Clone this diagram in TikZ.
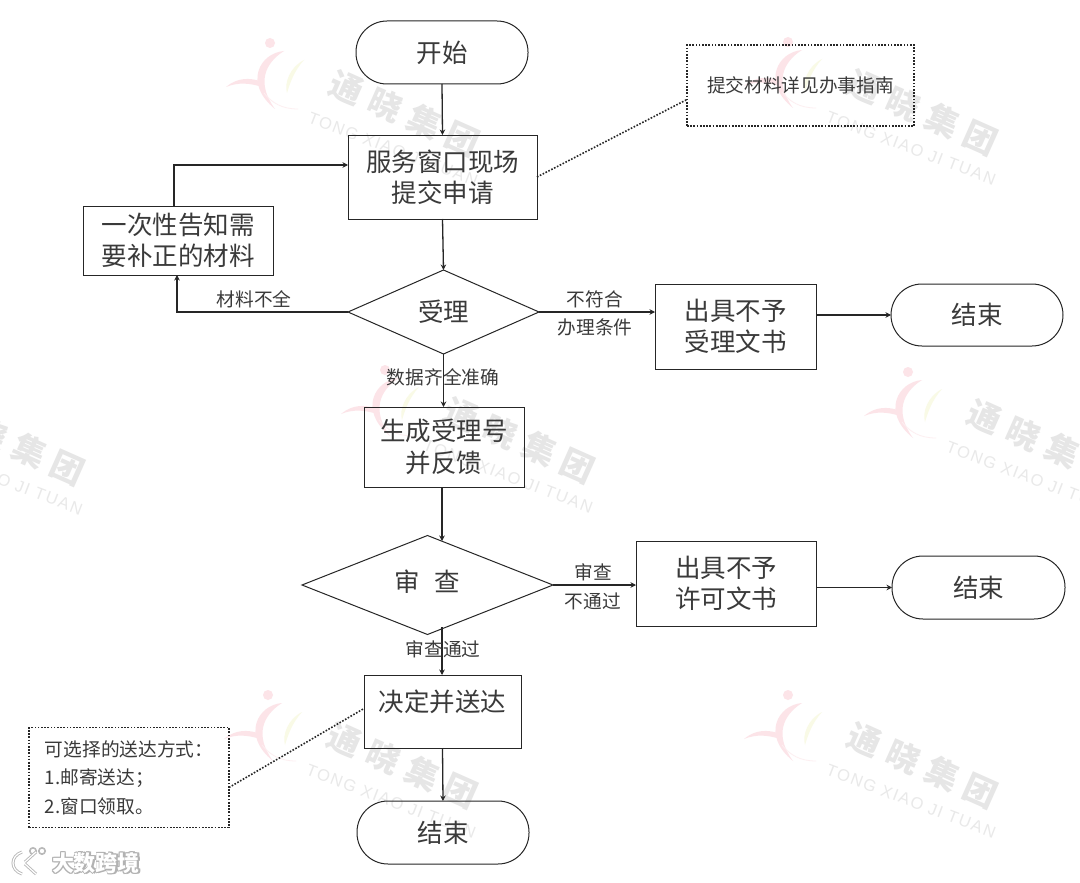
\documentclass[tikz,border=0pt]{standalone}
\usepackage{fontspec}
\usetikzlibrary{shapes.geometric,arrows.meta}
\setmainfont{Noto Sans CJK SC}
\newfontfamily\wmcn[LetterSpace=28]{Noto Sans CJK SC}
\newfontfamily\wmen[LetterSpace=10]{Liberation Sans}
\newfontfamily\kfont{Noto Sans CJK SC}
\definecolor{ink}{HTML}{262626}
\definecolor{txt}{HTML}{3A3A3A}
\definecolor{wmgray}{HTML}{E6E6E6}
\definecolor{wmgrayb}{HTML}{E9E9E9}
\definecolor{wmpink}{HTML}{FCE4E8}
\definecolor{wmyel}{HTML}{F9FAE6}
\newcommand\bigf{\fontsize{25.5}{31}\selectfont}
\newcommand\smallf{\fontsize{18.7}{28.5}\selectfont}
\tikzset{
  every node/.style={inner sep=0pt,outer sep=0pt,text=txt},
  base/.style={draw=ink,line width=1pt,font=\bigf,align=center},
  boxnode/.style={base,rectangle},
  termnode/.style={base,rectangle,rounded corners=31pt},
  decnode/.style={base,diamond},
  notenode/.style={draw=ink,line width=1.7pt,dash pattern=on 1.7pt off 1.5pt,rectangle,font=\smallf},
  lab/.style={font=\smallf,align=center},
  conn/.style={draw=ink,line width=1.3pt,-{Stealth[length=5.5pt,width=5.5pt]}},
  dotline/.style={draw=ink,line width=1.6pt,dash pattern=on 1.6pt off 1.6pt},
}
\newcommand\wmark[2]{%
\begin{scope}[shift={(#1,#2)}]
  \fill[wmpink] (0,0) circle (5);
  \fill[wmpink] (14,8) .. controls (-10,10) and (-27,40) .. (5,66) .. controls (-14,40) and (-5,20) .. (14,8) -- cycle;
  \fill[wmpink] (-44,44) .. controls (-32,34) and (-20,35) .. (-10,38) -- (-8,44) .. controls (-20,40) and (-32,39) .. (-44,44) -- cycle;
  \fill[wmyel] (34,17) .. controls (20,24) and (14,40) .. (17,50) .. controls (20,40) and (24,28) .. (34,17) -- cycle;
  \draw[wmpink!60,line width=.8pt] (-6,50) .. controls (2,60) and (12,66) .. (28,66);
  \node[rotate=-24,text=wmgray,font=\wmcn\bfseries\fontsize{33}{33}\selectfont] (wc#1) at (135,70) {通晓集团};
  \node[rotate=-21,text=wmgrayb,font=\wmen\fontsize{16.5}{16.5}\selectfont] (we#1) at (123,106) {TONG XIAO JI TUAN};
\end{scope}}
\begin{document}
\begin{tikzpicture}[x=1pt,y=-1pt]
\useasboundingbox[fill=white] (0,0) rectangle (1080,883);
% watermarks
\wmark{270}{43}
\wmark{788}{42}
\wmark{908}{372}
\wmark{385}{370}
\wmark{-125}{372}
\wmark{268}{695}
\wmark{788}{695}
% bottom-left mark
\begin{scope}
  \draw[gray!55,line width=3pt] (22,852) .. controls (10,856) and (10,870) .. (22,874);
  \draw[gray!55,line width=3pt] (25,862) -- (36,852) (25,864) -- (36,874);
  \draw[gray!55,line width=1.6pt] (33,851) circle (3.2) (42,851) circle (3.2);
  \draw[white,line width=1.2pt] (22,852) .. controls (10,856) and (10,870) .. (22,874);
  \draw[white,line width=1.2pt] (25,862) -- (36,852) (25,864) -- (36,874);
  \foreach \dx/\dy [count=\i] in {-1/0,1/0,0/-1,0/1,-1/-1,1/1,1/-1,-1/1}
    \node[text=gray!60,font=\kfont\bfseries\fontsize{22}{22}\selectfont] (kb\i) at (96+\dx,863.5+\dy) {大数跨境};
  \node[text=white,font=\kfont\bfseries\fontsize{22}{22}\selectfont] (kt) at (96,863.5) {大数跨境};
\end{scope}
% nodes
\node[termnode,minimum width=172pt,minimum height=63pt] (start) at (442,52.5) {开始};
\node[boxnode,minimum width=189pt,minimum height=84pt] (submit) at (442.5,177) {\raisebox{2pt}{服务窗口现场}\\\raisebox{2pt}{提交申请}};
\node[notenode,minimum width=227pt,minimum height=81pt] (note1) at (800.5,85.5) {提交材料详见办事指南};
\node[boxnode,minimum width=190pt,minimum height=69pt] (fix) at (178,240.5) {一次性告知需\\要补正的材料};
\node[decnode,minimum width=191pt,minimum height=84pt,aspect=2.27] (accept) at (443.5,312) {受理};
\node[boxnode,minimum width=161pt,minimum height=85pt] (rej1) at (735.5,326.5) {出具不予\\受理文书};
\node[termnode,minimum width=172pt,minimum height=62pt] (end1) at (977,315) {结束};
\node[boxnode,minimum width=160pt,minimum height=80pt] (gen) at (444,447) {\raisebox{-1.5pt}{生成受理号}\\[1pt]\raisebox{-1.5pt}{并反馈}};
\node[decnode,minimum width=251pt,minimum height=99pt,aspect=2.535,text depth=8pt] (review) at (427.5,585) {审\hspace{14.5pt}查};
\node[boxnode,minimum width=180pt,minimum height=85pt] (rej2) at (726,583.5) {\raisebox{1.5pt}{出具不予}\\\raisebox{1.5pt}{许可文书}};
\node[termnode,minimum width=173pt,minimum height=63pt] (end2) at (978.5,587.5) {结束};
\node[boxnode,minimum width=157pt,minimum height=73pt,text depth=22pt] (decide) at (442.5,711.5) {决定并送达};
\node[termnode,minimum width=172pt,minimum height=63pt] (end3) at (443,832.5) {结束};
\node[notenode,minimum width=200pt,minimum height=100pt,align=left,text width=168pt] (note2) at (129,777.5) {可选择的送达方式：\\1.邮寄送达；\\2.窗口领取。};
\coordinate (revtop) at (442,541);
\coordinate (revbot) at (442,627);
% connectors
\draw[conn] (start.south) -- (submit.north);
\draw[conn] ([xshift=-4pt]fix.north) |- ([yshift=12pt]submit.west);
\draw[conn] (submit.south) -- (accept.north);
\draw[conn] (accept.west) -| ([xshift=-1pt]fix.south);
\draw[conn] (accept.east) -- (rej1.west |- accept.east);
\draw[conn] (rej1.east |- end1.west) -- (end1.west);
\draw[conn] (accept.south) -- (gen.north -| accept.south);
\draw[conn] (gen.south -| revtop) -- (revtop);
\draw[conn] (review.east) -- (rej2.west |- review.east);
\draw[conn] (rej2.east |- end2.west) -- (end2.west);
\draw[conn] (revbot) -- (decide.north -| revbot);
\draw[conn] (decide.south) -- (end3.north);
\draw[dotline] (submit.east) -- ([yshift=-14pt]note1.west);
\draw[dotline] ([yshift=-10pt]note2.east) -- ([yshift=3pt]decide.west);
% labels
\node[lab] (l1) at (254,299) {材料不全};
\node[lab] (l2) at (595,299) {不符合};
\node[lab] (l3) at (595,327) {办理条件};
\node[lab] (l4) at (443,377) {数据齐全准确};
\node[lab] (l5) at (593,572) {审查};
\node[lab] (l6) at (593,601) {不通过};
\node[lab] (l7) at (443,649) {审查通过};
\end{tikzpicture}
\end{document}
